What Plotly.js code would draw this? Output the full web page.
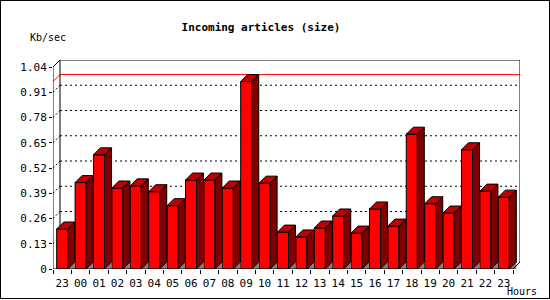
<!DOCTYPE html>
<html>
<head>
<meta charset="utf-8">
<script src="https://cdn.plot.ly/plotly-3.0.1.min.js"></script>
<style>
  html, body { margin: 0; padding: 0; background: #fff; overflow: hidden; }
  #chart { width: 550px; height: 300px; position: absolute; left: 0; top: 0; }
  #frame { position: absolute; left: 0; top: 0; width: 548px; height: 297px; border: 1px solid #000; pointer-events: none; }
</style>
</head>
<body>
<div id="chart"></div>
<div id="frame"></div>
<script>
// ---- data ----
const hours = ['23','00','01','02','03','04','05','06','07','08','09','10','11',
               '12','13','14','15','16','17','18','19','20','21','22','23'];
const kbps = [0.206, 0.445, 0.588, 0.417, 0.428, 0.398, 0.326, 0.458, 0.458, 0.417,
              0.965, 0.442, 0.190, 0.165, 0.211, 0.273, 0.185, 0.309, 0.221, 0.694,
              0.336, 0.288, 0.614, 0.401, 0.370];
const yTickVals = [0, 0.13, 0.26, 0.39, 0.52, 0.65, 0.78, 0.91, 1.04];
const yTickText = ['0', '0.13', '0.26', '0.39', '0.52', '0.65', '0.78', '0.91', '1.04'];

// ---- 3D geometry (depth offset in axis units) ----
const n = hours.length;
const yMax = yTickVals[yTickVals.length - 1];
const pxPerX = 18.4, pxPerY = 194.2;
const dx = 7 / pxPerX;      // depth in x units
const dy = 7 / pxPerY;      // depth in y units
const barW = 0.6;
const idx = hours.map((_, i) => i);
const xL = -0.5, xR = n - 0.5;

const sideX = [], sideY = [], topX = [], topY = [], shX = [], shY = [];
idx.forEach(i => {
  const v = kbps[i], l = i - barW / 2, r = i + barW / 2;
  sideX.push(r, r, r + dx, r + dx, r, null);
  sideY.push(0, v, v + dy, dy, 0, null);
  topX.push(l, r, r + dx, l + dx, l, null);
  topY.push(v, v, v + dy, v + dy, v, null);
  shX.push(r, r + dx, r + dx, r, null);
  shY.push(0, dy, 0, 0, null);
});

const traces = [
  { type: 'scatter', mode: 'lines', x: shX, y: shY, fill: 'toself',
    fillcolor: '#808080', line: { width: 0, color: '#808080' }, hoverinfo: 'skip', showlegend: false },
  { type: 'bar', x: idx, y: kbps, width: barW,
    marker: { color: '#ff0000', line: { color: '#000', width: 1 } }, hoverinfo: 'skip', showlegend: false },
  { type: 'scatter', mode: 'lines', x: sideX, y: sideY, fill: 'toself',
    fillcolor: '#800000', line: { width: 1, color: '#000' }, hoverinfo: 'skip', showlegend: false },
  { type: 'scatter', mode: 'lines', x: topX, y: topY, fill: 'toself',
    fillcolor: '#c00000', line: { width: 1, color: '#000' }, hoverinfo: 'skip', showlegend: false },
  // carrier for the boundary-tick axis
  { type: 'scatter', mode: 'markers', x: [null], y: [null], xaxis: 'x2', yaxis: 'y',
    hoverinfo: 'skip', showlegend: false }
];

// ---- frame / grid shapes built from tick values ----
const shapes = [];
const ln = (x0, y0, x1, y1, color, dash, layer) => shapes.push({
  type: 'line', xref: 'x', yref: 'y', x0, y0, x1, y1, layer: layer || 'below',
  line: { color: color || '#000', width: 1, dash: dash || 'solid' }
});
yTickVals.forEach(v => {
  if (v > 0 && v < yMax) {
    ln(xL + dx, v + dy, xR + dx, v + dy, '#000', '2px,3px');
    ln(xL, v, xL + dx, v + dy, '#000', '2px,2px');
  }
});
const peak = Math.max(...kbps);
ln(xL, peak, xL + dx, peak + dy, '#ff0000');
ln(xL + dx, peak + dy, xR + dx, peak + dy, '#ff0000');
// back wall
ln(xL + dx, dy, xL + dx, yMax + dy);
ln(xL + dx, yMax + dy, xR + dx, yMax + dy);
ln(xR + dx, dy, xR + dx, yMax + dy);
// front axes
ln(xL, 0, xL, yMax, '#000', 'solid', 'above');
ln(xL, yMax, xL + dx, yMax + dy, '#000', 'solid', 'above');
ln(xL, 0, xR, 0, '#000', 'solid', 'above');
ln(xR, 0, xR + dx, dy, '#000', 'solid', 'above');

const boundaries = idx.map(i => i - 0.5).concat([xR]);

const mono = 'DejaVu Sans Mono, monospace';
const layout = {
  width: 550, height: 300,
  margin: { l: 53, r: 30, t: 60, b: 31, pad: 0 },
  paper_bgcolor: '#fff', plot_bgcolor: '#fff',
  bargap: 0,
  title: { text: '<b>Incoming articles (size)</b>', font: { family: mono, size: 11, color: '#000' },
           xref: 'container', x: 261 / 550, xanchor: 'center', yref: 'container', y: 1 - 27 / 300, yanchor: 'middle' },
  xaxis: {
    range: [xL, xR + dx], fixedrange: true,
    tickmode: 'array', tickvals: idx, ticktext: hours,
    ticks: 'outside', ticklen: 4, tickcolor: 'rgba(0,0,0,0)', tickwidth: 1,
    showgrid: false, zeroline: false, showline: false,
    tickfont: { family: mono, size: 11, color: '#000' }
  },
  xaxis2: {
    overlaying: 'x', anchor: 'y', side: 'bottom',
    range: [xL, xR + dx], fixedrange: true,
    tickmode: 'array', tickvals: boundaries, showticklabels: false,
    ticks: 'outside', ticklen: 4, tickcolor: '#000', tickwidth: 1,
    showgrid: false, zeroline: false, showline: false
  },
  yaxis: {
    range: [0, yMax + dy], fixedrange: true,
    tickmode: 'array', tickvals: yTickVals, ticktext: yTickText,
    ticks: 'outside', ticklen: 3, tickcolor: '#000', tickwidth: 1,
    showgrid: false, zeroline: false, showline: false,
    tickfont: { family: mono, size: 11, color: '#000' }
  },
  shapes: shapes,
  annotations: [
    { text: 'Kb/sec', xref: 'paper', yref: 'paper', x: (28 - 53) / 467, y: (269 - 37) / 209,
      xanchor: 'left', yanchor: 'middle', showarrow: false, font: { family: mono, size: 10, color: '#000' } },
    { text: 'Hours', xref: 'paper', yref: 'paper', x: (505 - 53) / 467, y: (269 - 291.5) / 209,
      xanchor: 'left', yanchor: 'middle', showarrow: false, font: { family: mono, size: 10, color: '#000' } }
  ]
};

Plotly.newPlot('chart', traces, layout, { staticPlot: true, displayModeBar: false });
</script>
</body>
</html>
